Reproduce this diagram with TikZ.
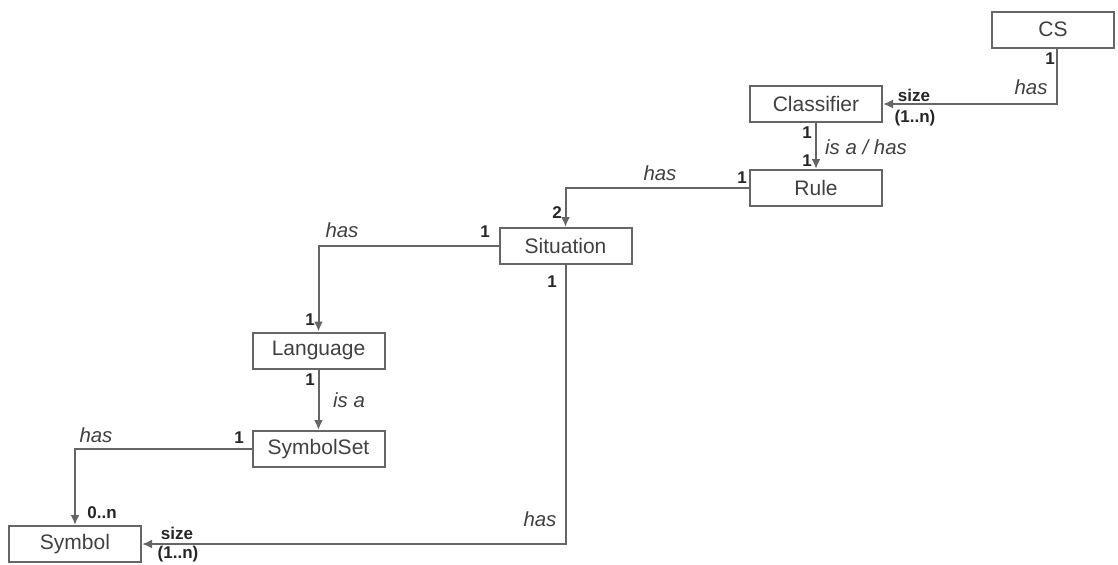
\documentclass[tikz,border=0pt]{standalone}
\usepackage{fontspec}
\setmainfont{Liberation Sans}
\usetikzlibrary{arrows.meta}

\definecolor{lncol}{gray}{0.4}
\definecolor{txtcol}{gray}{0.25}

\tikzset{
  box/.style={draw=lncol, line width=1pt, rectangle, minimum width=66pt, minimum height=18pt,
    inner sep=0pt, text=txtcol, font=\fontsize{10.5}{12}\selectfont},
  rel/.style={draw=lncol, line width=1pt, -{Latex[length=5pt,width=4.5pt]}},
  lbl/.style={inner sep=0pt, text=txtcol, font=\fontsize{10.2}{12}\selectfont\itshape},
  mult/.style={inner sep=0pt, text=black!85, font=\fontsize{8.5}{10}\selectfont\bfseries}
}

\begin{document}
\begin{tikzpicture}
  [x=0.5pt,y=-0.5pt]
  \useasboundingbox (0,0) rectangle (1118,564);

  \node[box, minimum width=61pt] (cs) at (1053,29.5) {CS};
  \node[box] (classifier) at (816,104) {Classifier};
  \node[box] (rule) at (816,188) {Rule};
  \node[box] (situation) at (565.5,246) {Situation};
  \node[box] (language) at (318.5,350.5) {Language};
  \node[box] (symbolset) at (318.5,449) {SymbolSet};
  \node[box] (symbol) at (75,544) {Symbol};

  \draw[rel] ([xshift=2pt]cs.south) |- (classifier.east);
  \draw[rel] (classifier.south) -- (rule.north);
  \draw[rel] (rule.west) -| (situation.north);
  \draw[rel] (situation.west) -| (language.north);
  \draw[rel] (language.south) -- (symbolset.north);
  \draw[rel] (symbolset.west) -| (symbol.north);
  \draw[rel] (situation.south) |- (symbol.east);

  % CS -> Classifier
  \node[mult] (m1) at (1050,59) {1};
  \node[lbl] (h1) at (1031,87) {has};
  \node[mult] (s1) at (914,95) {size};
  \node[mult] (n1) at (915,118) {(1..n)};
  % Classifier -> Rule
  \node[mult] (m2) at (807,133) {1};
  \node[mult] (m3) at (807,161) {1};
  \node[lbl] (h2) at (866,147) {is a / has};
  % Rule -> Situation
  \node[mult] (m4) at (742,178) {1};
  \node[lbl] (h3) at (660,173) {has};
  \node[mult] (m5) at (557,213) {2};
  % Situation -> Language
  \node[mult] (m6) at (485,232) {1};
  \node[lbl] (h4) at (342,230) {has};
  \node[mult] (m7) at (310,320) {1};
  % Language -> SymbolSet
  \node[mult] (m8) at (310,380) {1};
  \node[lbl] (h5) at (349,400) {is a};
  % SymbolSet -> Symbol
  \node[mult] (m9) at (239,438) {1};
  \node[lbl] (h6) at (96,435) {has};
  \node[mult] (m10) at (102,513) {0..n};
  % Situation -> Symbol
  \node[mult] (m11) at (552,282) {1};
  \node[lbl] (h7) at (540,519) {has};
  \node[mult] (s2) at (177,533) {size};
  \node[mult] (n2) at (178,554) {(1..n)};
\end{tikzpicture}
\end{document}
